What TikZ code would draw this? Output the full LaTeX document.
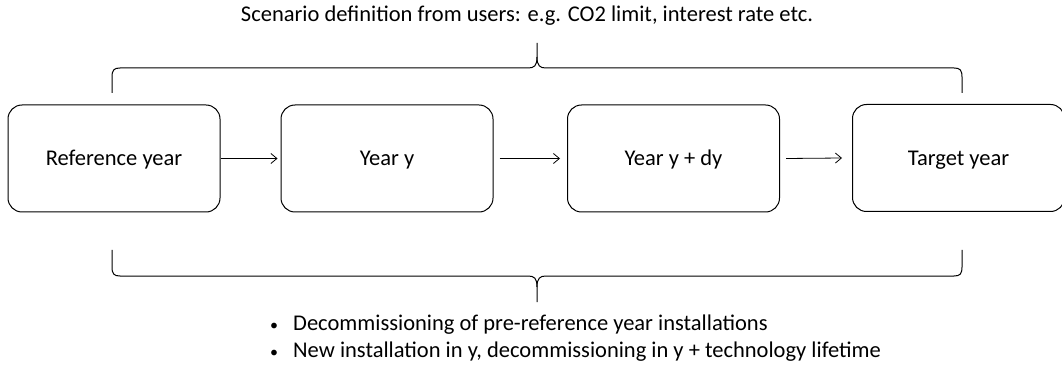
\documentclass[tikz,border=0pt]{standalone}
\usepackage{fontspec}
\setmainfont{Carlito}
\usetikzlibrary{arrows.meta}
\begin{document}
\begin{tikzpicture}[x=1pt,y=-1pt,
  yearbox/.style={draw=black,line width=1pt,rounded corners=14pt,minimum width=212pt,minimum height=107pt,inner sep=0pt,text height=14.5pt,text depth=0pt,font=\fontsize{22.5}{27}\selectfont},
  flow/.style={-{Straight Barb[length=6pt,width=10pt]},line width=0.8pt},
  bracket/.style={line width=1pt},
  lbl/.style={font=\fontsize{22.5}{27}\selectfont,inner sep=0pt}]
\useasboundingbox (0,0) rectangle (1062,371);
\node[yearbox] (ref) at (114,158.5) {Reference year};
\node[yearbox] (y) at (387,158.5) {Year y};
\node[yearbox] (ydy) at (673.5,158.5) {Year y + dy};
\node[yearbox] (tgt) at (958.5,158) {Target year};
\draw[flow] (ref.east) -- ([xshift=-3pt]y.west);
\draw[flow] ([xshift=6pt]y.east) -- ([xshift=-7pt]ydy.west);
\draw[flow] ([xshift=6pt]ydy.east) -- ([xshift=-10pt]tgt.west);
% top brace
\coordinate (tl) at (112,93);
\coordinate (tr) at (962,93);
\coordinate (tt) at (537,43);
\draw[bracket] (tl) -- (112,77) .. controls (112,70) and (114,68) .. (120,68) -- (528,68)
  .. controls (534,68) and (537,66) .. (537,57) -- (tt);
\draw[bracket] (tr) -- (962,77) .. controls (962,70) and (960,68) .. (954,68) -- (546,68)
  .. controls (540,68) and (537,66) .. (537,57);
% bottom brace
\coordinate (bl) at (112,250);
\coordinate (br) at (962,250);
\coordinate (bt) at (537,302);
\draw[bracket] (bl) -- (112,267) .. controls (112,274) and (114,276) .. (120,276) -- (528,276)
  .. controls (534,276) and (537,278) .. (537,287) -- (bt);
\draw[bracket] (br) -- (962,267) .. controls (962,274) and (960,276) .. (954,276) -- (546,276)
  .. controls (540,276) and (537,278) .. (537,287);
\node[lbl,anchor=base] (scen) at (527,22) {Scenario definition from users: e.g. CO2 limit, interest rate etc.};
\node[lbl,anchor=base west] (b1) at (293,330) {Decommissioning of pre-reference year installations};
\node[lbl,anchor=base west] (b2) at (293,357) {New installation in y, decommissioning in y + technology lifetime};
\node[lbl,anchor=base] (d1) at ([xshift=-19pt]b1.base west) {\fontsize{16}{16}\selectfont •};
\node[lbl,anchor=base] (d2) at ([xshift=-19pt]b2.base west) {\fontsize{16}{16}\selectfont •};
\end{tikzpicture}
\end{document}
